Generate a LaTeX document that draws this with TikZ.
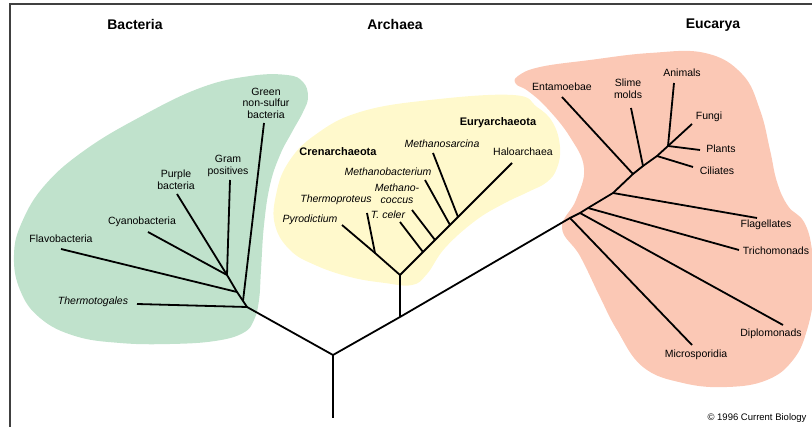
\documentclass[tikz,border=0pt]{standalone}
\usepackage{fontspec}
\setmainfont{Liberation Sans}
\definecolor{bactgreen}{RGB}{192,226,204}
\definecolor{archyellow}{RGB}{255,249,204}
\definecolor{eukpink}{RGB}{251,200,181}
\begin{document}
\begin{tikzpicture}[x=1pt,y=-1pt,
    branch/.style={line width=1.8pt},
    taxon/.style={font=\fontsize{10.5}{11.5}\selectfont,align=center,inner sep=0pt},
    cladelabel/.style={font=\fontsize{11}{13}\selectfont\bfseries,inner sep=0pt},
    domainlabel/.style={font=\fontsize{14}{16}\selectfont\bfseries,inner sep=0pt}]
    \useasboundingbox (0,0) rectangle (812,427);
    \clip (0,0) rectangle (812,427);

    % frame
    \draw[black!75,line width=1.2pt] (10,427) -- (10,4) -- (812,4);

    % the three domains
    \fill[bactgreen] plot[smooth cycle,tension=0.7] coordinates {
        (287,75) (303,82) (308,97) (303,112) (292,132) (280,155) (270,185)
        (264,225) (261,270) (259,300) (254,320) (243,333) (215,341) (170,344)
        (120,343) (75,336) (40,318) (20,290) (14,255) (22,222) (45,185)
        (85,150) (140,117) (200,88) (250,76)};
    \fill[archyellow] plot[smooth cycle,tension=0.7] coordinates {
        (513,95) (537,107) (553,123) (560,147) (557,168) (547,182) (528,192)
        (503,204) (475,221) (445,248) (427,274) (412,285) (385,283) (350,277)
        (315,265) (290,250) (275,225) (276,195) (288,163) (315,135) (360,112)
        (430,100)};
    \fill[eukpink] plot[smooth cycle,tension=0.7] coordinates {
        (518,76) (540,67) (590,60) (650,53) (705,53) (742,74) (760,110)
        (770,150) (777,182) (788,206) (804,222) (812,250) (814,290) (807,330)
        (793,360) (767,380) (727,387) (683,383) (643,367) (617,330) (600,297)
        (580,256) (562,228) (576,200) (584,168) (570,137) (547,108) (528,91)
        (516,84)};

    % trunk
    \coordinate (rootbot) at (333,418);
    \coordinate (j0) at (333,355);
    \coordinate (jb) at (247,307);
    \coordinate (ja) at (400,317);
    \coordinate (je) at (570,218);

    % Bacteria
    \coordinate (jb1) at (243,301);
    \coordinate (jb2) at (237,292);
    \coordinate (jb3) at (227,275);
    \coordinate (tthermo) at (137,304);
    \coordinate (tflavo) at (61,249);
    \coordinate (tcyano) at (148,232);
    \coordinate (tpurple) at (177,194);
    \coordinate (tgram) at (230,180);
    \coordinate (tgreen) at (264,123);

    % Archaea
    \coordinate (ja1) at (400,275);
    \coordinate (jcren) at (375,253);
    \coordinate (tpyro) at (342,225);
    \coordinate (tthermop) at (367,213);
    \coordinate (jceler) at (423,252);
    \coordinate (jcoccus) at (435,240);
    \coordinate (jbact) at (450,225);
    \coordinate (jsarc) at (458,217);
    \coordinate (thalo) at (512,163);
    \coordinate (tceler) at (400,222);
    \coordinate (tcoccus) at (412,210);
    \coordinate (tbact) at (425,180);
    \coordinate (tsarc) at (433,153);

    % Eucarya
    \coordinate (je1) at (580,213);
    \coordinate (je2) at (588,208);
    \coordinate (je3) at (613,193);
    \coordinate (je4) at (633,174);
    \coordinate (je5) at (643,166);
    \coordinate (je6) at (657,156);
    \coordinate (je7) at (668,146);
    \coordinate (tmicro) at (692,345);
    \coordinate (tdiplo) at (783,325);
    \coordinate (ttricho) at (739,250);
    \coordinate (tflag) at (757,218);
    \coordinate (tentam) at (562,97);
    \coordinate (tslime) at (631,108);
    \coordinate (tcil) at (693,167);
    \coordinate (tanim) at (674,83);
    \coordinate (tfungi) at (692,124);
    \coordinate (tplant) at (700,150);

    \draw[branch] (rootbot) -- (j0) -- (jb);
    \draw[branch] (j0) -- (ja) -- (je) -- (je1) -- (je2) -- (je3) -- (je4)
        -- (je5) -- (je6) -- (je7);
    \draw[branch] (tthermo) -- (jb) -- (jb1) -- (jb2) -- (jb3) -- (tpurple);
    \draw[branch] (ja) -- (ja1) -- (jcren) -- (tpyro);
    \draw[branch] (ja1) -- (thalo);

    % Same for every leaf
    \foreach \j/\t in {jb1/tgreen,jb2/tflavo,jb3/tcyano,jb3/tgram,
        jcren/tthermop,jceler/tceler,jcoccus/tcoccus,jbact/tbact,jsarc/tsarc,
        je/tmicro,je1/tdiplo,je2/ttricho,je3/tflag,je4/tentam,je5/tslime,
        je6/tcil,je7/tanim,je7/tfungi,je7/tplant}
    {
        \draw[branch] (\j) -- (\t);
    }

    % labels
    \node[domainlabel] (bacteria) at (135,25) {Bacteria};
    \node[domainlabel] (archaea) at (395,25) {Archaea};
    \node[domainlabel] (eucarya) at (713,25) {Eucarya};

    \node[taxon] (green) at (266,103) {Green\\non-sulfur\\bacteria};
    \node[taxon] (gram) at (228,166) {Gram\\positives};
    \node[taxon] (purple) at (176,180) {Purple\\bacteria};
    \node[taxon] (cyano) at (142,222) {Cyanobacteria};
    \node[taxon] (flavo) at (61,239) {Flavobacteria};
    \node[taxon] (thermo) at (93,302) {\itshape Thermotogales};

    \node[cladelabel] (cren) at (338,152) {Crenarchaeota};
    \node[cladelabel] (eury) at (498,123) {Euryarchaeota};
    \node[taxon] (pyro) at (310,220) {\itshape Pyrodictium};
    \node[taxon] (thermop) at (336,200) {\itshape Thermoproteus};
    \node[taxon] (celer) at (388,215) {\itshape T. celer};
    \node[taxon] (coccus) at (397,194) {\itshape Methano-\\\itshape coccus};
    \node[taxon] (mbact) at (388,172) {\itshape Methanobacterium};
    \node[taxon] (sarc) at (442,144) {\itshape Methanosarcina};
    \node[taxon] (halo) at (523,152) {Haloarchaea};

    \node[taxon] (entam) at (562,87) {Entamoebae};
    \node[taxon] (slime) at (628,89) {Slime\\molds};
    \node[taxon] (anim) at (682,73) {Animals};
    \node[taxon] (fungi) at (709,117) {Fungi};
    \node[taxon] (plant) at (721,149) {Plants};
    \node[taxon] (cil) at (717,171) {Ciliates};
    \node[taxon] (flag) at (766,225) {Flagellates};
    \node[taxon] (tricho) at (776,251) {Trichomonads};
    \node[taxon] (diplo) at (771,334) {Diplomonads};
    \node[taxon] (micro) at (696,355) {Microsporidia};

    \node[font=\fontsize{9.5}{11}\selectfont,inner sep=0pt] (credit)
        at (757,418) {\textcopyright{} 1996 Current Biology};

\end{tikzpicture}
\end{document}
